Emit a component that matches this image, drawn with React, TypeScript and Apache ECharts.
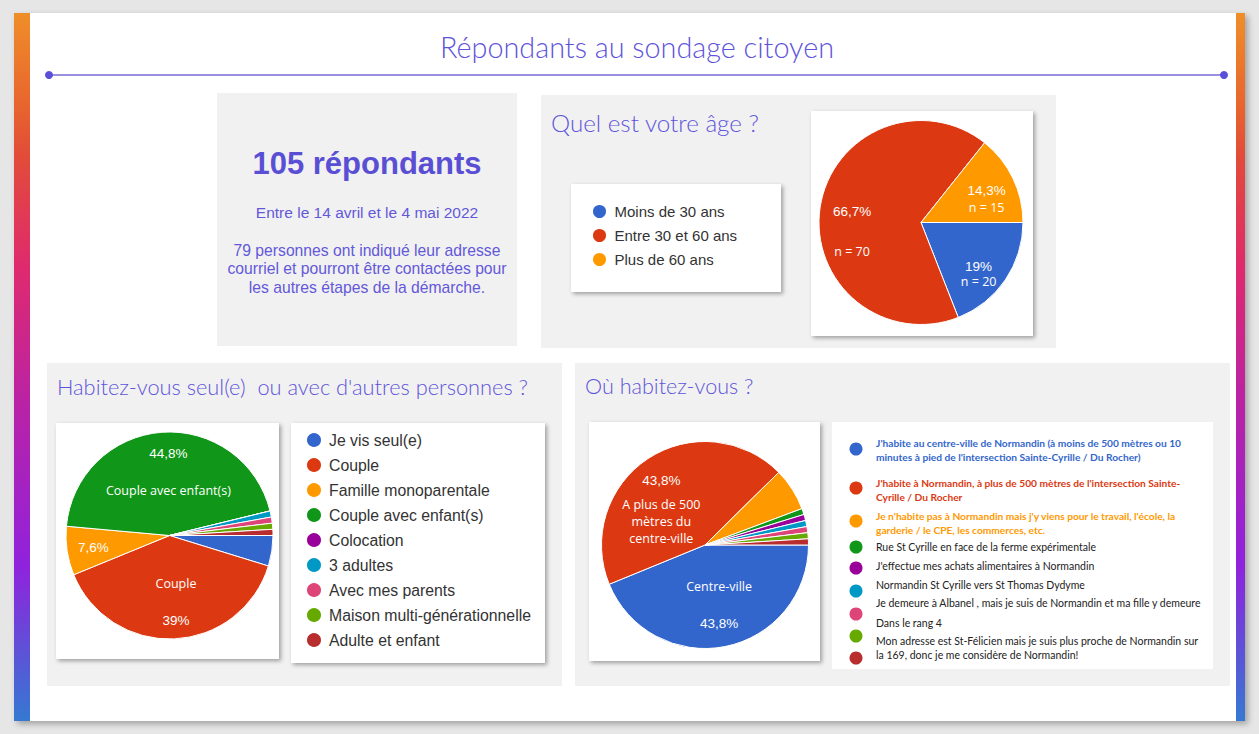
import React, { useEffect, useRef } from 'react';
import * as echarts from 'echarts';

// ---------- data ----------
const sliceColors = ['#3366cc', '#dc3912', '#ff9900', '#109618', '#990099', '#0099c6', '#dd4477', '#66aa00', '#b82e2e'];

const ageCategories = ['Moins de 30 ans', 'Entre 30 et 60 ans', 'Plus de 60 ans'];
const ageCounts = [20, 70, 15];

const householdCategories = [
  'Je vis seul(e)',
  'Couple',
  'Famille monoparentale',
  'Couple avec enfant(s)',
  'Colocation',
  '3 adultes',
  'Avec mes parents',
  'Maison multi-générationnelle',
  'Adulte et enfant',
];
const householdCounts = [5, 41, 8, 47, 0, 1, 1, 1, 1];

const locationCategories = [
  "J'habite au centre-ville de Normandin (à moins de 500 mètres ou 10\nminutes à pied de l'intersection Sainte-Cyrille / Du Rocher)",
  "J'habite à Normandin, à plus de 500 mètres de l'intersection Sainte-\nCyrille / Du Rocher",
  "Je n'habite pas à Normandin mais j'y viens pour le travail, l'école, la\ngarderie / le CPE, les commerces, etc.",
  'Rue St Cyrille en face de la ferme expérimentale',
  "J'effectue mes achats alimentaires à Normandin",
  'Normandin St Cyrille vers St Thomas Dydyme',
  'Je demeure à Albanel , mais je suis de Normandin et ma fille y demeure',
  'Dans le rang 4',
  'Mon adresse est St-Félicien mais je suis plus proche de Normandin sur\nla 169, donc je me considère de Normandin!',
];
const locationShortLabels = ['Centre-ville', 'A plus de 500\nmètres du\ncentre-ville', '', '', '', '', '', '', ''];
const locationCounts = [46, 46, 7, 1, 1, 1, 1, 1, 1];

const pageTitle = 'Répondants au sondage citoyen';
const summaryHeadline = '105 répondants';
const summaryDates = 'Entre le 14 avril et le 4 mai 2022';
const summaryLines = [
  '79 personnes ont indiqué leur adresse',
  'courriel et pourront être contactées pour',
  'les autres étapes de la démarche.',
];
const ageTitle = 'Quel est votre âge ?';
const householdTitle = "Habitez-vous seul(e)  ou avec d'autres personnes ?";
const locationTitle = 'Où habitez-vous ?';

// ---------- helpers ----------
const sum = (a: number[]) => a.reduce((s, x) => s + x, 0);
const pct = (v: number, t: number) => (Math.round((v / t) * 1000) / 10).toString().replace('.', ',') + '%';
const tag = (k: string, s: string) => s.split('\n').map((l) => `{${k}|${l}}`).join('\n');

const PURPLE = '#5e54db';
const LIGHT_FONT = 'Lato';
const SANS = 'Liberation Sans';

function richStyle(pGap: number, nGap: number) {
  return {
    p: { color: '#fff', fontSize: 13.5, fontFamily: SANS, lineHeight: pGap },
    n: { color: '#fff', fontSize: 12.5, fontFamily: 'Open Sans', lineHeight: nGap },
  };
}

function buildOption() {
  const ageTotal = sum(ageCounts);
  const hhTotal = sum(householdCounts);
  const locTotal = sum(locationCounts);

  const ageLabelLayout = [
    { offset: [13, 21.5], gap: 15 },
    { offset: [-15.5, 17.5], gap: 40 },
    { offset: [17, -0.5], gap: 17 },
  ];
  const ageData = ageCategories.map((name, i) => ({
    name,
    value: ageCounts[i],
    itemStyle: { color: sliceColors[i] },
    label: {
      show: true,
      position: 'inside',
      offset: ageLabelLayout[i].offset,
      formatter: `{p|${pct(ageCounts[i], ageTotal)}}\n{n|n = ${ageCounts[i]}}`,
      rich: richStyle(ageLabelLayout[i].gap, ageLabelLayout[i].gap),
    },
  }));

  const hhLabelMode = ['', 'name-pct', 'pct', 'pct-name', '', '', '', '', ''];
  const hhOffsets: Record<number, number[]> = { 1: [4, 11.5], 2: [-22, 3.5], 3: [3, -9] };
  const hhData = householdCategories.map((name, i) => {
    const mode = hhLabelMode[i];
    const p = pct(householdCounts[i], hhTotal);
    let formatter = '';
    if (mode === 'name-pct') formatter = `${tag('n', name)}\n${tag('p', p)}`;
    else if (mode === 'pct-name') formatter = `${tag('p', p)}\n${tag('n', name)}`;
    else if (mode === 'pct') formatter = tag('p', p);
    return {
      name,
      value: householdCounts[i],
      itemStyle: { color: sliceColors[i] },
      label: mode
        ? { show: true, position: 'inside', offset: hhOffsets[i], formatter, rich: richStyle(37, 37) }
        : { show: false },
    };
  });

  const locLabelCfg: Record<number, any> = {
    0: { offset: [3.5, 6.5], order: 'name-pct', rich: richStyle(37, 37) },
    1: { offset: [-13.5, 7], order: 'pct-name', rich: richStyle(31, 17) },
  };
  const locData = locationCategories.map((name, i) => {
    const cfg = locLabelCfg[i];
    const p = pct(locationCounts[i], locTotal);
    const short = locationShortLabels[i];
    let formatter = '';
    if (cfg) {
      formatter = cfg.order === 'name-pct' ? `${tag('n', short)}\n${tag('p', p)}` : `${tag('p', p)}\n${tag('n', short)}`;
    }
    return {
      name,
      value: locationCounts[i],
      itemStyle: { color: sliceColors[i] },
      label: cfg ? { show: true, position: 'inside', offset: cfg.offset, formatter, rich: cfg.rich } : { show: false },
    };
  });

  const pieBase = {
    type: 'pie',
    startAngle: 0,
    clockwise: true,
    avoidLabelOverlap: false,
    silent: true,
    labelLine: { show: false },
    itemStyle: { borderColor: '#ffffff', borderWidth: 1 },
    emphasis: { disabled: true },
  };

  const shadow = { shadowBlur: 4, shadowOffsetX: 2, shadowOffsetY: 2, shadowColor: 'rgba(0,0,0,0.35)' };
  const rect = (x: number, y: number, w: number, h: number, fill: any, extra: any = {}) => ({
    type: 'rect',
    shape: { x, y, width: w, height: h },
    style: { fill, ...extra },
    silent: true,
  });
  const text = (x: number, y: number, t: string, st: any) => ({
    type: 'text',
    x,
    y,
    silent: true,
    style: { text: t, ...st },
  });

  const stripe = {
    type: 'linear',
    x: 0,
    y: 0,
    x2: 0,
    y2: 1,
    colorStops: [
      { offset: 0, color: '#ef8e29' },
      { offset: 0.13, color: '#e8652e' },
      { offset: 0.2, color: '#e24c38' },
      { offset: 0.36, color: '#df2a6e' },
      { offset: 0.56, color: '#b822a8' },
      { offset: 0.78, color: '#9022dd' },
      { offset: 1, color: '#3579d2' },
    ],
  };

  // location legend layout (graphic)
  const locDotY = [449, 488, 521, 547, 568, 591, 614, 636, 658];
  const locTextY = [443.3, 483.3, 516, 547, 566, 585, 603, 622.7, 641];
  const locLegend: any[] = [];
  locationCategories.forEach((name, i) => {
    locLegend.push({
      type: 'circle',
      shape: { cx: 856, cy: locDotY[i], r: 6.5 },
      style: { fill: sliceColors[i] },
      silent: true,
    });
    const bold = i < 3;
    locLegend.push(
      text(876, locTextY[i] - 6.75, name, {
        fontFamily: 'Lato',
        fontSize: bold ? 10.2 : 10.5,
        fontWeight: bold ? 'bold' : 'normal',
        fill: bold ? sliceColors[i] : '#222',
        lineHeight: 13.5,
        align: 'left',
        verticalAlign: 'top',
      })
    );
  });

  const graphics: any[] = [
    // card
    rect(14, 13, 1231, 708, '#ffffff', { shadowBlur: 6, shadowOffsetX: 3, shadowOffsetY: 3, shadowColor: 'rgba(0,0,0,0.3)' }),
    rect(14, 13, 16, 708, stripe),
    rect(1236, 13, 9, 708, stripe),
    // title
    text(637, 47, pageTitle, {
      fontFamily: LIGHT_FONT,
      fontWeight: 300,
      fontSize: 28.8,
      fill: PURPLE,
      align: 'center',
      verticalAlign: 'middle',
    }),
    { type: 'line', shape: { x1: 49, y1: 75, x2: 1224, y2: 75 }, style: { stroke: '#9a90e2', lineWidth: 2 }, silent: true },
    { type: 'circle', shape: { cx: 49, cy: 75, r: 4 }, style: { fill: '#5a4fd8' }, silent: true },
    { type: 'circle', shape: { cx: 1224, cy: 75, r: 4 }, style: { fill: '#5a4fd8' }, silent: true },
    // panels
    rect(217, 93, 300, 253, '#f1f1f1'),
    rect(541, 95, 515, 253, '#f1f1f1'),
    rect(47, 363, 515, 323, '#f1f1f1'),
    rect(575, 363, 655, 323, '#f1f1f1'),
    // white boxes
    rect(571, 184, 210, 108, '#ffffff', shadow),
    rect(811, 111, 222, 225, '#ffffff', shadow),
    rect(56, 423, 223, 236, '#ffffff', shadow),
    rect(291, 423, 254, 240, '#ffffff', shadow),
    rect(589, 422, 231, 239, '#ffffff', shadow),
    rect(832, 422, 381, 247, '#ffffff'),
    // summary
    text(367, 163, summaryHeadline, {
      fontFamily: SANS,
      fontWeight: 'bold',
      fontSize: 31,
      fill: '#5a4fd4',
      align: 'center',
      verticalAlign: 'middle',
    }),
    text(367, 212.5, summaryDates, { fontFamily: SANS, fontSize: 15.5, fill: '#6358da', align: 'center', verticalAlign: 'middle' }),
    ...summaryLines.map((l, i) =>
      text(367, 250 + i * 18.5, l, { fontFamily: SANS, fontSize: 15.7, fill: '#6358da', align: 'center', verticalAlign: 'middle' })
    ),
    // panel titles
    text(551, 122, ageTitle, { fontFamily: LIGHT_FONT, fontWeight: 300, fontSize: 24.2, fill: PURPLE, verticalAlign: 'middle' }),
    text(57, 386, householdTitle, { fontFamily: LIGHT_FONT, fontWeight: 300, fontSize: 21.8, fill: PURPLE, verticalAlign: 'middle' }),
    text(585, 386, locationTitle, { fontFamily: LIGHT_FONT, fontWeight: 300, fontSize: 21.6, fill: PURPLE, verticalAlign: 'middle' }),
    ...locLegend,
  ];

  return {
    animation: false,
    backgroundColor: '#e6e6e6',
    graphic: { elements: graphics },
    legend: [
      {
        data: ageCategories,
        orient: 'vertical',
        left: 591,
        top: 203,
        padding: 0,
        itemWidth: 20,
        itemHeight: 15,
        itemGap: 7,
        icon: 'circle',
        selectedMode: false,
        textStyle: { fontFamily: SANS, fontSize: 15, color: '#333' },
      },
      {
        data: householdCategories,
        orient: 'vertical',
        left: 305,
        top: 431,
        padding: 0,
        itemWidth: 20,
        itemHeight: 16,
        itemGap: 7,
        icon: 'circle',
        selectedMode: false,
        textStyle: { fontFamily: SANS, fontSize: 15.8, color: '#333' },
      },
    ],
    series: [
      { ...pieBase, name: 'age', center: [921, 222.5], radius: 102, data: ageData },
      { ...pieBase, name: 'household', center: [169.5, 535.5], radius: 103.5, data: hhData },
      { ...pieBase, name: 'location', center: [705, 545], radius: 103.5, data: locData },
    ],
  };
}

export default function App() {
  const ref = useRef<HTMLDivElement>(null);
  useEffect(() => {
    if (!ref.current) return;
    const chart = echarts.init(ref.current, undefined, { renderer: 'svg' });
    chart.setOption(buildOption() as any);
    return () => chart.dispose();
  }, []);
  return <div ref={ref} style={{ position: 'fixed', left: 0, top: 0, width: 1259, height: 734 }} />;
}
